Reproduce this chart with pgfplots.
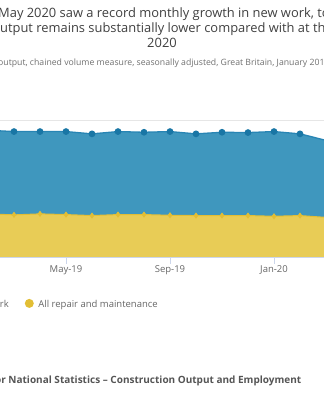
\documentclass[border=0pt]{standalone}
\usepackage{pgfplots}
\pgfplotsset{compat=1.18}
\usepackage{fontspec}
\setmainfont{Open Sans}
\definecolor{bluefill}{RGB}{63,151,190}
\definecolor{blueline}{RGB}{40,133,180}
\definecolor{bluemark}{RGB}{25,118,165}
\definecolor{yelfill}{RGB}{232,204,86}
\definecolor{yelline}{RGB}{226,190,52}
\definecolor{gridc}{RGB}{230,230,230}
\definecolor{axisc}{RGB}{204,214,235}
\definecolor{titlec}{RGB}{64,64,64}
\definecolor{subc}{RGB}{112,112,112}
\definecolor{labc}{RGB}{102,102,102}
\definecolor{footc}{RGB}{85,85,85}
\begin{document}
\begin{tikzpicture}[x=1pt,y=1pt]
\useasboundingbox (0,0) rectangle (324,400);
\clip (0,0) rectangle (324,400);
\node[anchor=base west, inner sep=0, text=titlec, font=\fontsize{12.9}{15}\selectfont] at (-2,382.7) {May 2020 saw a record monthly growth in new work, total};
\node[anchor=base west, inner sep=0, text=titlec, font=\fontsize{12.9}{15}\selectfont] at (-7.8,367.7) {output remains substantially lower compared with at the};
\node[anchor=base, inner sep=0, text=titlec, font=\fontsize{12.9}{15}\selectfont] at (162,352.7) {2020};
\node[anchor=base west, inner sep=0, text=subc, font=\fontsize{8.7}{11}\selectfont] at (-2,334.5) {output, chained volume measure, seasonally adjusted, Great Britain, January 2010 to May 2020};
\begin{axis}[
  at={(0,156.3)}, anchor=south west, scale only axis,
  width=324pt, height=136.7pt,
  xmin=1.4615, xmax=13.923, ymin=0, ymax=15000,
  scaled y ticks=false,
  axis x line=bottom, axis y line=left,
  axis line style={-},
  x axis line style={draw=axisc, line width=0.8pt},
  y axis line style={draw=none},
  xtick={4,8,12}, xticklabels={May-19,Sep-19,Jan-20},
  tick align=outside, major tick length=6pt,
  x tick style={draw=axisc, line width=0.8pt},
  ytick={15000}, yticklabels={}, y tick style={draw=none},
  ymajorgrids, grid style={draw=gridc, line width=0.8pt},
  xticklabel style={font=\fontsize{9.5}{11}\selectfont, text=labc, inner sep=0pt, yshift=-1.5pt},
  axis on top,
]
\addplot[draw=none, fill=bluefill] coordinates {
(1,13969) (2,13826) (3,13826) (4,13826) (5,13574) (6,13826) (7,13749) (8,13826) (9,13574) (10,13749) (11,13716) (12,13826) (13,13574) (14,12860)
} \closedcycle;
\addplot[draw=none, fill=yelfill] coordinates {
(1,4795) (2,4685) (3,4795) (4,4718) (5,4609) (6,4718) (7,4718) (8,4642) (9,4609) (10,4609) (11,4609) (12,4532) (13,4609) (14,4407)
} \closedcycle;
\addplot[draw=yelline, line width=1pt, mark=diamond*, mark size=2.3pt, mark options={fill=yelline, draw=yelline}] coordinates {
(1,4795) (2,4685) (3,4795) (4,4718) (5,4609) (6,4718) (7,4718) (8,4642) (9,4609) (10,4609) (11,4609) (12,4532) (13,4609) (14,4407)
};
\addplot[draw=blueline, line width=1.3pt, mark=*, mark size=2.7pt, mark options={fill=bluemark, draw=bluemark}] coordinates {
(1,13969) (2,13826) (3,13826) (4,13826) (5,13574) (6,13826) (7,13749) (8,13826) (9,13574) (10,13749) (11,13716) (12,13826) (13,13574) (14,12860)
};
\end{axis}
\fill[bluemark] (-20,97) circle (4.5);
\node[anchor=base east, inner sep=0, text=labc, font=\fontsize{9.5}{11}\selectfont] at (9,92.8) {All new work};
\fill[yelline] (29.3,96.6) circle (4.5);
\node[anchor=base west, inner sep=0, text=labc, font=\fontsize{9.5}{11}\selectfont] at (38.2,92.8) {All repair and maintenance};
\node[anchor=base east, inner sep=0, text=footc, font=\bfseries\fontsize{10}{12}\selectfont] at (301.5,16.7) {Source: Office for National Statistics – Construction Output and Employment};
\end{tikzpicture}
\end{document}
